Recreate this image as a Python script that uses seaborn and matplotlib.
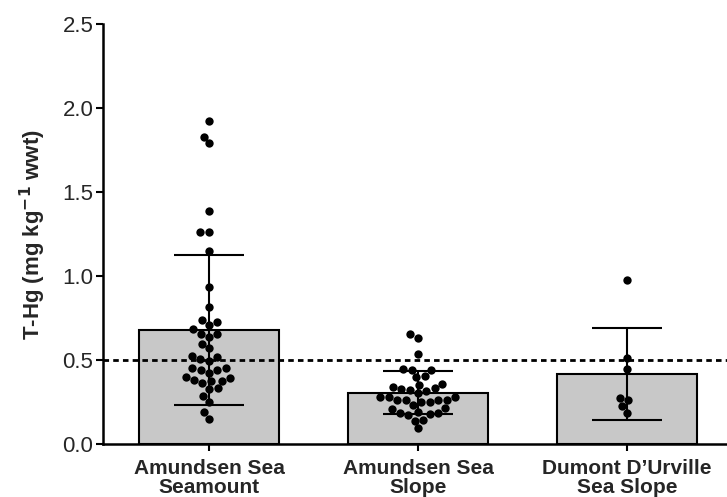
import numpy as np
import pandas as pd
import matplotlib
matplotlib.use("Agg")
import matplotlib.pyplot as plt
import seaborn as sns

# Site names (x categories)
sites = ["Amundsen Sea\nSeamount", "Amundsen Sea\nSlope", "Dumont D\u2019Urville\nSea Slope"]

# Bar heights (mean) and error bars (SD)
means = [0.68, 0.305, 0.415]
sds = [0.447, 0.128, 0.273]

# Individual T-Hg values per site
seamount = [1.924, 1.829, 1.790, 1.389, 1.262, 1.262, 1.149, 0.933, 0.814,
            0.738, 0.728, 0.706, 0.683, 0.655, 0.655, 0.639, 0.595, 0.569,
            0.524, 0.516, 0.504, 0.496, 0.450, 0.450, 0.440, 0.440, 0.425,
            0.401, 0.391, 0.381, 0.377, 0.377, 0.361, 0.333, 0.329, 0.286,
            0.252, 0.189, 0.147]
slope = [0.653, 0.629, 0.536, 0.446, 0.440, 0.440, 0.407, 0.397, 0.355,
         0.351, 0.337, 0.331, 0.325, 0.321, 0.317, 0.302, 0.278, 0.278,
         0.278, 0.262, 0.262, 0.262, 0.262, 0.252, 0.252, 0.232, 0.212,
         0.208, 0.192, 0.183, 0.183, 0.179, 0.173, 0.143, 0.139, 0.093]
durville = [0.976, 0.514, 0.444, 0.276, 0.262, 0.226, 0.186]

threshold = 0.5

points = pd.DataFrame({
    "site": [sites[0]] * len(seamount) + [sites[1]] * len(slope) + [sites[2]] * len(durville),
    "thg": seamount + slope + durville,
})

sns.set_style("ticks")
plt.rcParams["font.family"] = ["Liberation Sans", "DejaVu Sans"]

fig = plt.figure(figsize=(7.27, 4.97), dpi=100)
ax = fig.add_axes([0.1417, 0.1066, 0.8583, 0.845])

sns.barplot(x=sites, y=means, color="#c8c8c8", edgecolor="black",
            linewidth=1.5, width=0.67, ax=ax, zorder=1)
ax.errorbar(x=np.arange(len(sites)), y=means, yerr=sds, fmt="none",
            ecolor="black", elinewidth=1.5, capsize=25, capthick=1.5, zorder=2)
ax.axhline(threshold, color="black", lw=2, ls=(0, (2, 1.5)), zorder=3)
sns.swarmplot(data=points, x="site", y="thg", order=sites, color="black",
              size=6, ax=ax, zorder=4)

ax.set_ylim(0, 2.5)
ax.set_yticks([0.0, 0.5, 1.0, 1.5, 2.0, 2.5])
ax.set_xlim(-0.507, 2.478)
ax.set_xlabel("")
ax.set_ylabel("T-Hg (mg kg$^{\\mathbf{-1}}$ wwt)", fontsize=16, fontweight="bold", labelpad=10)
ax.tick_params(axis="y", labelsize=16, width=1.5, length=5, pad=2, color="black")
ax.tick_params(axis="x", labelsize=15, width=1.5, length=5, pad=6, color="black")
for lbl in ax.get_xticklabels():
    lbl.set_fontweight("bold")
    lbl.set_linespacing(1.0)
sns.despine(ax=ax)
ax.spines["left"].set_linewidth(1.8)
ax.spines["bottom"].set_linewidth(1.8)
ax.spines["left"].set_color("black")
ax.spines["bottom"].set_color("black")

fig.savefig("out.png", dpi=100)
